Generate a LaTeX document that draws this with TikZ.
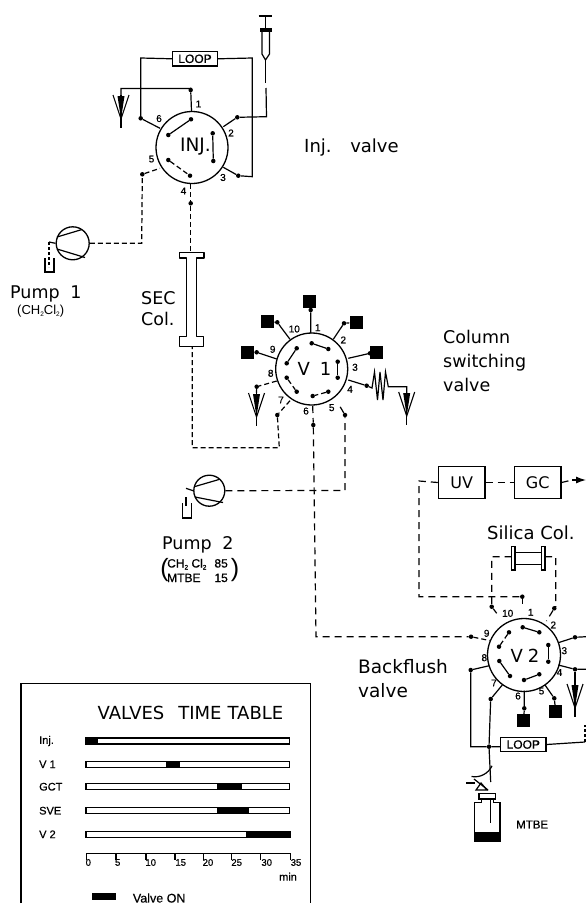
\documentclass[tikz,border=0pt]{standalone}
\usepackage{fontspec}
\usetikzlibrary{arrows.meta}
\setmainfont{DejaVu Sans}
\newfontfamily\lab{Liberation Sans}[FakeBold=0.6]
\newfontfamily\labr{Liberation Sans}
\newcommand{\sbt}[1]{\raisebox{-2pt}{\fontsize{6.5}{7}\selectfont #1}}
\newcommand{\dt}[3]{\node[dotn] (#1) at (#2,#3) {};}
\newcommand{\cp}[3]{\coordinate (#1) at (#2,#3);}
\newcommand{\sqn}[3]{\node[sq] (#1) at (#2,#3) {};}
\newcommand{\nm}[3]{\node[num] at (#1,#2) {#3};}
\tikzset{
  ln/.style={draw=black,line width=1.2pt},
  dsh/.style={draw=black,line width=1.2pt,dash pattern=on 5pt off 3pt},
  dshl/.style={draw=black,line width=1.2pt,dash pattern=on 7pt off 5pt},
  dotn/.style={circle,fill=black,inner sep=0pt,minimum size=4.5pt},
  sq/.style={fill=black,inner sep=0pt,minimum size=13pt},
  valve/.style={circle,draw=black,line width=1.3pt,inner sep=0pt,minimum size=72pt},
  boxn/.style={draw=black,line width=1.2pt,fill=white,inner sep=0pt,align=center},
  num/.style={font=\lab\fontsize{10}{11}\selectfont,inner sep=0pt},
  big/.style={font=\fontsize{17.5}{20}\selectfont,inner sep=0pt},
  small/.style={font=\lab\fontsize{9}{10}\selectfont,inner sep=0pt},
  ventpic/.pic={
    \draw[line width=1.1pt] (-8,0)--(0,24)--(8,0);
    \fill (-3.5,1)--(3.5,1)--(0,24)--cycle;
    \draw[line width=1.3pt] (0,0)--(0,33);
  },
}
\begin{document}
\begin{tikzpicture}[x=1pt,y=-1pt]
\useasboundingbox (0,0) rectangle (586,905);
% ================= Injection valve
\node[valve] (inj) at (192,147.5) {};
\node[big,font=\fontsize{18.5}{20}\selectfont] (injt) at (195.5,147) {INJ.};
\dt{i1}{190.7}{90}\dt{i2}{237.3}{117.3}\dt{i3}{238.3}{175.7}\dt{i4}{190.7}{203.3}\dt{i5}{142.3}{174.3}\dt{i6}{140.7}{118.3}
\dt{ia}{191}{119.3}\dt{ib}{168.3}{135}\dt{ic}{212.7}{133.3}\dt{id}{213.3}{161}\dt{ie}{168.3}{160}\dt{if}{190}{175.7}
\cp{ic1}{191.5}{111}\cp{ic2}{223.3}{126.7}\cp{ic3}{223.3}{167.3}\cp{ic4}{190.7}{184.3}\cp{ic5}{160}{168.3}\cp{ic6}{160}{128.3}
\draw[ln] (ia)--(ib); \draw[ln] (ic)--(id); \draw[dsh] (ie)--(if);
\nm{198.5}{104}{1}\nm{231}{133}{2}\nm{223}{177.5}{3}\nm{183.5}{191}{4}\nm{151.5}{159}{5}\nm{159}{118.5}{6}
\node[boxn,minimum width=44.6pt,minimum height=14.3pt,font=\lab\fontsize{12}{13}\selectfont] (loopa) at (195,58.8) {LOOP};
\pic at (121,95) {ventpic};
\coordinate (vtop) at (121,88.5);
\draw[ln] (ic1)--(i1)--(190.7,88.5)--(vtop)--(121,95);
\draw[ln] (ic6)--(i6)--(140.7,58)--(loopa.west);
\draw[ln] (loopa.east)--(252.3,58)--(252.3,176.7)--(i3)--(ic3);
\draw[ln] (ic2)--(i2)--(266.5,116.7)--(266,88);
% syringe
\coordinate (sya) at (265.5,83);
\draw[ln] (265.5,60)--(sya);
\draw[ln] (262,31)--(262,54)--(265.5,60)--(269.5,54)--(269.5,31);
\fill (260,28) rectangle (272,32);
\draw[line width=1.5pt] (265.5,16)--(265.5,28);
\draw[line width=2pt] (258.5,16)--(272,16);
% ================= Pump 1
\node[circle,draw=black,line width=1.3pt,inner sep=0pt,minimum size=33pt] (p1) at (72.7,243.3) {};
\draw[ln] (57,237)--(82,229.5);
\draw[ln] (57,249)--(85,257.5);
\coordinate (p1l) at (49,242);
\draw[ln] (p1.west)--(p1l);
\draw[dsh,dash pattern=on 3pt off 2pt] (p1l)--(49,267);
\draw[ln] (45,258)--(45,272)--(54,272)--(54,258);
\draw[dsh] (p1.east)--(141.7,243.3)--(i5)--(ic5);
\draw[dsh] (ic4)--(i4);
\draw[dsh] (i4)--(190.7,252.3);
\node[big,anchor=base west] (pump1) at (10,298) {Pump\hspace{5pt} 1};
\node[inner sep=0pt,font=\labr\fontsize{13}{14}\selectfont,anchor=base west] (pump1s) at (17,314) {(CH\sbt{2}Cl\sbt{2})};
% ================= SEC column
\draw[ln,line join=round] (186.7,258)--(186.7,336.5)--(179.3,336.5)--(179.3,346.7)--(203.5,346.7)--(203.5,336.5)--(196.7,336.5)--(196.7,258)--(204,258)--(204,252.3)--(179.3,252.3)--(179.3,258)--cycle;
\node[big,anchor=west] (sec) at (141,298) {SEC};
\node[big,anchor=west] (col) at (141,319) {Col.};
% ================= Labels top
\node[big,anchor=base west,font=\fontsize{18}{20}\selectfont] (injv) at (304,152) {Inj.\hspace{11pt} valve};
\node[big,anchor=base west] (cs1) at (443,343) {Column};
\node[big,anchor=base west] (cs2) at (443,367) {switching};
\node[big,anchor=base west] (cs3) at (443,391) {valve};
% ================= V1
\node[valve] (v1) at (311.7,369) {};
\node[big,font=\fontsize{18}{20}\selectfont] (v1t) at (314.5,369) {V\hspace{10pt}1};
\cp{c1}{310.7}{333.3}\cp{c2}{333.3}{339.3}\cp{c3}{348.3}{358.3}\cp{c4}{348.3}{380}\cp{c5}{340}{406.5}\cp{c6}{312.7}{406}\cp{c7}{290}{400.7}\cp{c8}{276.7}{381}\cp{c9}{276.7}{359}\cp{c10}{290}{339.3}
\dt{d1}{310.7}{310}\dt{d2}{344}{323.3}\dt{d3}{370}{353.3}\dt{d4}{366.7}{385.7}\dt{d5}{345}{415}\dt{d6}{313.3}{425}\dt{d7}{277.3}{415}\dt{d8}{256.7}{386.7}\dt{d9}{256.7}{352.3}\dt{d10}{277.3}{322.3}
\sqn{s1}{309.3}{301.7}\sqn{s2}{356}{322.3}\sqn{s3}{376}{352.7}\sqn{s9}{247.3}{352}\sqn{s10}{267.7}{321.7}
\draw[ln] (c1)--(d1)--(s1); \draw[ln] (c2)--(d2)--(s2); \draw[ln] (c3)--(d3)--(s3); \draw[ln] (c9)--(d9)--(s9); \draw[ln] (c10)--(d10)--(s10);
\dt{ja}{311.7}{343.3}\dt{jb}{328.3}{349}\dt{jc}{337.7}{361.7}\dt{jd}{337.7}{377.7}\dt{je}{328.3}{391.7}\dt{jf}{312.7}{396}\dt{jg}{286.7}{377.7}\dt{jh}{296.7}{391.7}\dt{ji}{296.7}{348.3}\dt{jj}{286.7}{363.3}
\draw[ln] (ja)--(jb); \draw[ln] (jc)--(jd); \draw[dsh] (je)--(jf); \draw[dsh] (jg)--(jh); \draw[ln] (ji)--(jj);
\nm{317.7}{327.7}{1}\nm{343.3}{340}{2}\nm{355}{367.3}{3}\nm{350}{389.3}{4}\nm{331.7}{407.7}{5}\nm{306}{411}{6}\nm{281}{400}{7}\nm{270.7}{373.3}{8}\nm{272.7}{349.3}{9}\nm{294.3}{329}{10}
% port 4 restrictor and vent
\draw[ln] (c4)--(d4)--(372,388)--(374.5,372)--(377.5,400)--(380,372)--(383,400)--(385.5,372)--(388.3,386.7)--(406.7,386.7)--(406.7,393);
\pic at (406.7,392) {ventpic};
% port 8 vent
\pic at (256.5,393) {ventpic};
\draw[dsh] (c8)--(d8)--(256.5,393);
% port 7 to SEC
\draw[dsh] (c7)--(d7)--(279.3,447.7)--(192.3,447.7)--(192.3,346.7);
% ports 5, 6 and pump 2
\node[circle,draw=black,line width=1.3pt,inner sep=0pt,minimum size=31pt] (p2) at (209.3,490.7) {};
\draw[ln] (195,486.5)--(219,479.5);
\draw[ln] (195,497)--(223,502.5);
\coordinate (p2l) at (186,488.3);
\draw[ln] (p2.west)--(p2l);
\draw[ln] (186,497)--(186,506);
\draw[ln] (182.3,503)--(182.3,518)--(191.7,518)--(191.7,503);
\draw[dshl] (p2.east)--(345,490.5)--(d5)--(c5);
\dt{v2p9}{471}{636.7}
\draw[dshl] (c6)--(d6)--(316,636.7)--(v2p9);
\node[big,anchor=base west] (pump2) at (162,549) {Pump\hspace{5pt} 2};
\node[inner sep=0pt,font=\fontsize{25}{26}\selectfont\labr] (lp) at (164.5,570.5) {(};
\node[inner sep=0pt,font=\fontsize{25}{26}\selectfont\labr] (rp) at (235,570.5) {)};
\node[inner sep=0pt,font=\lab\fontsize{12}{13}\selectfont,anchor=base west] (p2a) at (167,567.5) {CH\sbt{2} Cl\sbt{2}};
\node[inner sep=0pt,font=\lab\fontsize{12}{13}\selectfont,anchor=base east] (p2c) at (228,567.5) {85};
\node[inner sep=0pt,font=\lab\fontsize{12}{13}\selectfont,anchor=base west] (p2b) at (167,582) {MTBE};
\node[inner sep=0pt,font=\lab\fontsize{12}{13}\selectfont,anchor=base east] (p2d) at (228,582) {15};
% ================= UV, GC
\node[boxn,minimum width=46.7pt,minimum height=31.6pt,font=\fontsize{16}{18}\selectfont] (uv) at (461.7,482.5) {UV};
\node[boxn,minimum width=46.7pt,minimum height=31.6pt,font=\fontsize{16}{18}\selectfont] (gc) at (537.7,482.5) {GC};
\draw[dshl] (uv.east)--(gc.west);
\draw[dshl] (gc.east)--(572,480);
\draw[-{Latex[length=10pt,width=7pt]},line width=1.2pt] (572,480)--(586,480);
\dt{t1}{522.3}{596.7}
\draw[dshl] (uv.west)--(419,481)--(419,596.7)--(t1);
\cp{w1}{522.3}{617}
\draw[dsh] (t1)--(522.3,607);
% ================= Silica col
\node[inner sep=0pt,font=\fontsize{18}{20}\selectfont,anchor=base west] (sil) at (487,539) {Silica Col.};
\draw[ln] (511.5,546.7) rectangle (515,570);
\draw[ln] (541.5,546.7) rectangle (545,570);
\draw[ln] (515,552.3)--(541.5,552.3);
\draw[ln] (515,564.3)--(541.5,564.3);
\dt{t10}{491.7}{606.7}\dt{t2}{554.3}{608.3}
\draw[dshl] (511.5,556.7)--(491.7,556.7)--(t10)--(496.7,613.3);
\draw[dshl] (545,556.7)--(555.7,556.7)--(555.7,606.7)--(t2)--(546.5,621);
% ================= V2
\node[valve,minimum size=73pt] (v2) at (524,655) {};
\node[big,font=\fontsize{18}{20}\selectfont] (v2t) at (525,656) {V\hspace{5pt}2};
\dt{ka}{522.7}{627.3}\dt{kb}{539.3}{632.3}\dt{kc}{548.3}{645}\dt{kd}{548.3}{661.7}\dt{ke}{509}{632.3}\dt{kf}{499}{646.7}\dt{kg}{499.3}{661}\dt{kh}{510}{676}\dt{ki}{524}{680}\dt{kj}{539.3}{674.3}
\draw[ln] (ka)--(kb); \draw[ln] (kc)--(kd); \draw[dsh] (ke)--(kf); \draw[ln] (kg)--(kh); \draw[ln] (ki)--(kj);
\nm{530.7}{612.3}{1}\nm{553.3}{625}{2}\nm{564.3}{650.7}{3}\nm{559.5}{672.5}{4}\nm{541.5}{691}{5}\nm{518}{696}{6}\nm{494}{683}{7}\nm{484.3}{657.7}{8}\nm{486.7}{633.3}{9}\nm{507.7}{613.3}{10}
\cp{e3}{558.3}{642.7}\cp{e4}{558.3}{665}\cp{e5}{545}{685}\cp{e6}{524.3}{690.5}\cp{e7}{502.3}{685}\cp{e8}{489.3}{665.7}\cp{e9}{489.5}{640.5}
\dt{u3}{575}{637.3}\dt{u4}{575}{669.3}\dt{u5}{554.3}{698.3}\dt{u6}{524.3}{708.3}\dt{u7}{490.7}{699}\dt{u8}{470.7}{670}
\sqn{q5}{555.7}{711.7}\sqn{q6}{523.7}{720.7}
\draw[ln] (e3)--(u3)--(586,636.7);
\draw[ln] (e4)--(u4)--(586,669.3);
\draw[ln] (u4)--(575,685);
\pic at (575,684) {ventpic};
\draw[ln] (e5)--(u5)--(q5); \draw[ln] (e6)--(u6)--(q6);
\draw[dsh] (v2p9)--(e9);
% LOOP 2
\node[boxn,minimum width=45.3pt,minimum height=14.4pt,font=\lab\fontsize{12}{13}\selectfont] (loopb) at (523.3,744.5) {LOOP};
\dt{u9}{489}{746.7}
\draw[ln] (e8)--(u8)--(470.7,746.7)--(u9)--(loopb.west|-u9);
\draw[ln] (loopb.east)--(585,742);
\draw[dsh,dash pattern=on 3pt off 2pt] (585,742)--(585,725);
\draw[ln] (e7)--(u7)--(u9)--(490.7,782);
% ================= Bottle
\draw[ln] (481.7,799)--(481.7,802.7)--(474.3,802.7)--(474.3,841.7)--(500,841.7)--(500,802.7)--(493.3,802.7)--(493.3,799);
\fill (474.3,831.7) rectangle (500,841.7);
\draw[ln] (479,793.3) rectangle (495.7,799);
\draw[ln] (490.7,799)--(490.7,823);
\draw[ln] (471.5,776.5) arc[start angle=100,end angle=25,radius=19];
\draw[ln] (466,783)--(475,783);
\draw[ln] (481,783)--(476,790)--(487,790)--cycle;
\draw[ln] (474,779)--(488,790);
\node[inner sep=0pt,font=\lab\fontsize{11.5}{12}\selectfont,anchor=west] (mtbe) at (516,824.5) {MTBE};
\node[big,anchor=base west,font=\fontsize{18.5}{20}\selectfont] (bf1) at (358,673) {Backflush};
\node[big,anchor=base west,font=\fontsize{18.5}{20}\selectfont] (bf2) at (358,697) {valve};
% ================= Time table
\draw[line width=1.3pt] (21,903)--(21,683.3)--(310.5,683.3)--(310.5,903);
\node[inner sep=0pt,font=\fontsize{18}{20}\selectfont] (tt) at (190.5,712.7) {VALVES\hspace{14pt}TIME\hspace{6pt}TABLE};
\newcommand{\tbar}[4]{%
  \node[inner sep=0pt,anchor=west,font=\lab\fontsize{11}{12}\selectfont] at (39,#1) {#2};
  \draw[line width=1.1pt] (86,#1-3) rectangle (289.5,#1+3);
  \fill (#3,#1-3.5) rectangle (#4,#1+3.5);}
\tbar{741}{Inj.}{86}{97.7}
\tbar{764.3}{V 1}{165.7}{180}
\tbar{786.7}{GCT}{217.3}{241.7}
\tbar{810.7}{SVE}{217.3}{249}
\tbar{834.3}{V 2}{246}{290.7}
\draw[line width=1.1pt] (86.7,853.3)--(290.7,853.3);
\foreach \tx/\lx/\t in {86.7/88.3/0,116/117.7/5,146/150.7/10,175/180.7/15,203.3/208/20,231.7/236.7/25,260.7/266.7/30,290.7/296/35}{
  \draw[line width=1.1pt] (\tx,853.3)--(\tx,860);
  \node[inner sep=0pt,font=\lab\fontsize{9.5}{10}\selectfont] at (\lx,862.5) {\t};
}
\node[inner sep=0pt,font=\lab\fontsize{11}{12}\selectfont] (minl) at (288,876.7) {min};
\fill (91.7,893.3) rectangle (116,900);
\node[inner sep=0pt,font=\lab\fontsize{12.5}{13}\selectfont,anchor=west] (von) at (132.7,898) {Valve ON};
\end{tikzpicture}
\end{document}
